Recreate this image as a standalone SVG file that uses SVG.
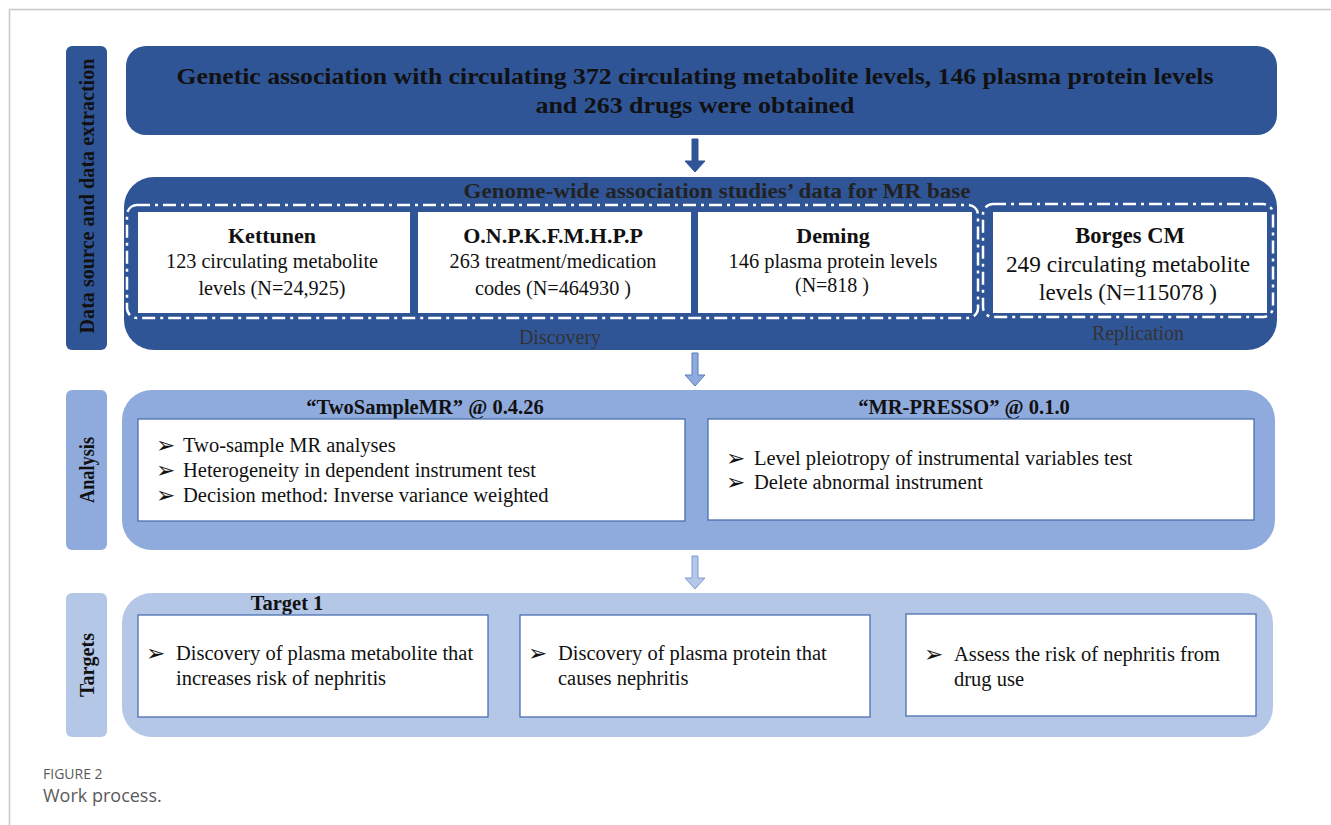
<svg xmlns="http://www.w3.org/2000/svg" width="1331" height="825" viewBox="0 0 1331 825">
<style>
.serif{font-family:"Liberation Serif","Times New Roman",serif;}
.b{font-weight:bold;}
.dark{fill:#2F5597;}
.mid{fill:#8FAADC;}
.light{fill:#B4C7E7;}
.wbox{fill:#fff;stroke:#4A6FB0;stroke-width:1.3;}
.wbox0{fill:#fff;}
.dd{fill:none;stroke:#fff;stroke-width:2.5;stroke-dasharray:13 5 3 5;}
.t{fill:#111;}
.side{font-family:"Liberation Serif",serif;font-weight:bold;font-size:20px;fill:#111;}
.bul{font-family:"DejaVu Sans",sans-serif;font-size:23px;fill:#111;}
.cap{font-family:"Open Sans","Liberation Sans",sans-serif;fill:#5a5a5a;}
.f{font-size:20.5px;}
</style>
<rect x="0" y="0" width="1331" height="825" fill="#fff"/>
<path d="M9.5 825 V9.5 H1331" fill="none" stroke="#c8c8c8" stroke-width="1.5"/>

<g id="side-labels">
<g id="label-data"><rect x="66" y="46" width="41" height="304" rx="6" class="dark"/>
<text class="side" transform="translate(94,196) rotate(-90)" text-anchor="middle" textLength="275" lengthAdjust="spacingAndGlyphs">Data source and data extraction</text></g>
<g id="label-analysis"><rect x="66" y="390" width="41" height="160" rx="6" class="mid"/>
<text class="side" transform="translate(94,470) rotate(-90)" text-anchor="middle" textLength="66" lengthAdjust="spacingAndGlyphs">Analysis</text></g>
<g id="label-targets"><rect x="66" y="593" width="41" height="144" rx="6" class="light"/>
<text class="side" transform="translate(94,665) rotate(-90)" text-anchor="middle" textLength="64" lengthAdjust="spacingAndGlyphs">Targets</text></g>
</g>

<g id="node-genetic">
<rect x="126" y="46" width="1151" height="89" rx="20" class="dark"/>
<text class="serif b t" x="695" y="84" font-size="24" text-anchor="middle" textLength="1037" lengthAdjust="spacingAndGlyphs">Genetic association with circulating 372 circulating metabolite levels, 146 plasma protein levels</text>
<text class="serif b t" x="695" y="113" font-size="24" text-anchor="middle" textLength="319" lengthAdjust="spacingAndGlyphs">and 263 drugs were obtained</text>
</g>

<g id="node-gwas">
<rect x="124" y="177" width="1153" height="173" rx="30" class="dark"/>
<text class="serif b" x="717" y="198" font-size="21" fill="#222" text-anchor="middle" textLength="507" lengthAdjust="spacingAndGlyphs">Genome-wide association studies’ data for MR base</text>
<text class="serif" x="560" y="344" font-size="20" fill="#333" text-anchor="middle">Discovery</text>
<text class="serif" x="1138" y="340" font-size="20" fill="#333" text-anchor="middle">Replication</text>
</g>

<g id="node-kettunen">
<rect x="138" y="212" width="272" height="101" class="wbox0"/>
<text class="serif b t" x="272" y="243" font-size="22" text-anchor="middle">Kettunen</text>
<text class="serif t" x="272" y="268" font-size="20.2" text-anchor="middle">123 circulating metabolite</text>
<text class="serif t" x="272" y="295" font-size="20.2" text-anchor="middle">levels (N=24,925)</text>
</g>
<g id="node-onpk">
<rect x="418" y="212" width="273" height="101" class="wbox0"/>
<text class="serif b t" x="553" y="243" font-size="22" text-anchor="middle">O.N.P.K.F.M.H.P.P</text>
<text class="serif t" x="553" y="268" font-size="20.2" text-anchor="middle">263 treatment/medication</text>
<text class="serif t" x="553" y="295" font-size="20.2" text-anchor="middle">codes (N=464930 )</text>
</g>
<g id="node-deming">
<rect x="698" y="212" width="274" height="101" class="wbox0"/>
<text class="serif b t" x="833" y="243" font-size="22" text-anchor="middle">Deming</text>
<text class="serif t" x="833" y="268" font-size="20" text-anchor="middle" textLength="209" lengthAdjust="spacingAndGlyphs">146 plasma protein levels</text>
<text class="serif t" x="832" y="292" font-size="20" text-anchor="middle">(N=818 )</text>
</g>
<g id="node-borges">
<rect x="993" y="212" width="274" height="101" class="wbox0"/>
<text class="serif b t" x="1130" y="243" font-size="22.5" text-anchor="middle">Borges CM</text>
<text class="serif t" x="1128" y="272" font-size="23" text-anchor="middle" textLength="244" lengthAdjust="spacingAndGlyphs">249 circulating metabolite</text>
<text class="serif t" x="1128" y="300" font-size="23" text-anchor="middle" textLength="178" lengthAdjust="spacingAndGlyphs">levels (N=115078 )</text>
</g>

<g id="frames">
<rect x="127" y="205" width="851" height="113" rx="10" class="dd"/>
<rect x="983" y="204" width="290" height="113" rx="10" class="dd"/>
</g>

<g id="node-analysis">
<rect x="122" y="390" width="1153" height="160" rx="30" class="mid"/>
<text class="serif b t" x="425" y="414" font-size="20.5" text-anchor="middle">“TwoSampleMR”  @ 0.4.26</text>
<text class="serif b t" x="964" y="414" font-size="20.5" text-anchor="middle">“MR-PRESSO” @ 0.1.0</text>
</g>
<g id="node-twosample">
<rect x="138" y="419" width="547" height="102" class="wbox"/>
<text class="bul" x="156" y="453">➢</text>
<text class="bul" x="156" y="478">➢</text>
<text class="bul" x="156" y="503">➢</text>
<text class="serif t f" x="183" y="452">Two-sample MR analyses</text>
<text class="serif t f" x="183" y="477">Heterogeneity in dependent  instrument test</text>
<text class="serif t f" x="183" y="502">Decision method: Inverse variance weighted</text>
</g>
<g id="node-mrpresso">
<rect x="708" y="419" width="546" height="101" class="wbox"/>
<text class="bul" x="726" y="466">➢</text>
<text class="bul" x="726" y="490">➢</text>
<text class="serif t f" x="754" y="465">Level pleiotropy of instrumental variables test</text>
<text class="serif t f" x="754" y="489">Delete abnormal instrument</text>
</g>

<g id="node-targets">
<rect x="122" y="593" width="1151" height="144" rx="30" class="light"/>
<text class="serif b t" x="287" y="610" font-size="20.5" text-anchor="middle">Target 1</text>
</g>
<g id="node-target1">
<rect x="138" y="615" width="350" height="102" class="wbox"/>
<text class="bul" x="146" y="661">➢</text>
<text class="serif t f" x="176" y="660">Discovery of plasma metabolite that</text>
<text class="serif t f" x="176" y="685">increases risk of nephritis</text>
</g>
<g id="node-target2">
<rect x="520" y="615" width="350" height="102" class="wbox"/>
<text class="bul" x="528" y="661">➢</text>
<text class="serif t f" x="558" y="660">Discovery of plasma protein that</text>
<text class="serif t f" x="558" y="685">causes nephritis</text>
</g>
<g id="node-target3">
<rect x="906" y="614" width="350" height="102" class="wbox"/>
<text class="bul" x="924" y="662">➢</text>
<text class="serif t f" x="954" y="661">Assess the risk of nephritis from</text>
<text class="serif t f" x="954" y="686">drug use</text>
</g>

<g id="connectors">
<polygon points="692,139 698,139 698,161 705,161 695,172 685,161 692,161" fill="#2F5597" stroke="#2F5597" stroke-width="1"/>
<polygon points="692,353 698,353 698,375 705,375 695,386 685,375 692,375" fill="#8FAADC" stroke="#5B7DB8" stroke-width="1"/>
<polygon points="692,556 698,556 698,578 705,578 695,589 685,578 692,578" fill="#B4C7E7" stroke="#7F9ED3" stroke-width="1"/>
</g>

<g id="caption">
<text class="cap" x="43" y="779" font-size="14">FIGURE 2</text>
<text class="cap" x="43" y="802" font-size="18">Work process.</text>
</g>
</svg>
